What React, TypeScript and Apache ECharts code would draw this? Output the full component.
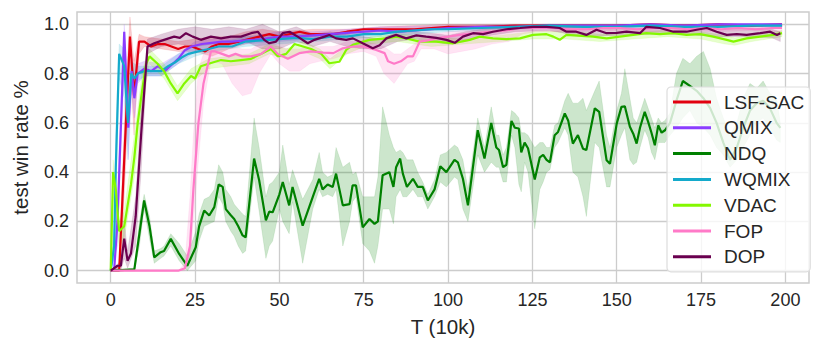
import React, { useEffect, useRef } from "react";
import * as echarts from "echarts";

// ---------- data ----------
const xTicks = [0, 25, 50, 75, 100, 125, 150, 175, 200];
const yTicks = [0, 0.2, 0.4, 0.6, 0.8, 1.0];
const seriesNames = ["LSF-SAC", "QMIX", "NDQ", "WQMIX", "VDAC", "FOP", "DOP"];
const seriesColors = ["#e2000f", "#8b3dff", "#008000", "#14aacb", "#84f800", "#ff7ac8", "#6a004f"];

// LSF-SAC
const lsfX = [0, 1, 2, 2.5, 3.3, 4.5, 5.7, 6.9, 8.4, 10, 12, 14, 16, 18, 20, 22, 24, 26, 28, 30, 32, 35, 38, 41, 44, 47, 50, 53, 56, 59, 62, 66, 70, 75, 80, 85, 90, 95, 100, 110, 120, 130, 140, 150, 160, 170, 180, 190, 199];
const lsfY = [0, 0, 0, 0, 0.24, 0.6, 0.95, 0.71, 0.93, 0.93, 0.91, 0.92, 0.92, 0.91, 0.9, 0.91, 0.91, 0.9, 0.89, 0.91, 0.92, 0.92, 0.93, 0.94, 0.95, 0.96, 0.95, 0.96, 0.97, 0.96, 0.96, 0.96, 0.97, 0.98, 0.98, 0.98, 0.98, 0.985, 0.99, 0.99, 0.995, 0.995, 0.995, 0.995, 1.0, 0.995, 1.0, 0.995, 1.0];
const lsfBandX = [0, 2.5, 3.3, 4.5, 5.7, 6.9, 8.4, 10, 15, 20, 25, 30, 35, 40, 45, 50, 60, 70, 80, 100, 120, 150, 180, 199];
const lsfLo = [0, 0, 0.1, 0.45, 0.85, 0.55, 0.88, 0.91, 0.9, 0.89, 0.89, 0.87, 0.9, 0.92, 0.94, 0.94, 0.95, 0.96, 0.97, 0.98, 0.985, 0.99, 0.99, 0.99];
const lsfHi = [0, 0.02, 0.35, 0.75, 1.03, 0.85, 0.96, 0.95, 0.94, 0.93, 0.94, 0.95, 0.95, 0.97, 0.98, 0.97, 0.98, 0.98, 0.99, 1.0, 1.0, 1.0, 1.0, 1.0];

// QMIX
const qmixX = [0, 1, 2, 2.5, 4, 5.2, 6.2, 7, 8, 10, 12, 14, 16, 18, 20, 22, 24, 27, 30, 33, 36, 40, 45, 50, 55, 60, 65, 70, 75, 80, 85, 90, 95, 100, 110, 120, 130, 140, 150, 160, 170, 180, 190, 199];
const qmixY = [0, 0, 0.2, 0.39, 0.97, 0.58, 0.81, 0.7, 0.8, 0.82, 0.81, 0.83, 0.81, 0.835, 0.86, 0.895, 0.91, 0.92, 0.925, 0.93, 0.93, 0.935, 0.94, 0.95, 0.95, 0.955, 0.96, 0.965, 0.97, 0.975, 0.97, 0.975, 0.98, 0.985, 0.99, 0.99, 0.995, 0.995, 0.995, 1.0, 0.995, 1.0, 1.0, 1.0];
const qmixBandX = [0, 2, 2.5, 4, 5.2, 6.2, 7, 8, 10, 15, 20, 25, 30, 40, 50, 60, 80, 100, 130, 160, 199];
const qmixLo = [0, 0.1, 0.3, 0.85, 0.45, 0.72, 0.62, 0.76, 0.79, 0.79, 0.84, 0.89, 0.91, 0.92, 0.93, 0.94, 0.96, 0.98, 0.985, 0.99, 0.99];
const qmixHi = [0, 0.3, 0.5, 1.0, 0.7, 0.88, 0.78, 0.84, 0.85, 0.84, 0.88, 0.93, 0.94, 0.95, 0.97, 0.97, 0.99, 0.995, 1.0, 1.0, 1.0];

// NDQ
const ndqX = [0, 7, 8.5, 9.9, 11.5, 12.9, 14.8, 15.8, 17.8, 20.3, 22.7, 25.2, 26.2, 27.7, 29.2, 30.7, 32, 33.2, 34.1, 35.6, 36.6, 37.8, 39.1, 40, 42.5, 44, 46, 47, 48, 50, 51, 52.9, 53.9, 56.9, 59.9, 61.8, 62.8, 64.3, 65.8, 66.8, 68.8, 70.8, 71.7, 72.7, 74.7, 76.7, 78.2, 79.2, 80.6, 82.6, 83.8, 84.6, 85.8, 86.6, 87.8, 89.6, 91, 92.5, 94, 96, 97.7, 99.5, 101.9, 102.9, 104.4, 105.9, 108.8, 110.8, 112.8, 114.3, 115.1, 116.3, 117.3, 118.8, 119.8, 121, 121.7, 122.7, 123.7, 125.7, 127.2, 128.2, 129.2, 130.2, 131.6, 132.6, 134.6, 135.6, 137, 138.5, 140, 141, 143.5, 144.8, 147, 148, 150, 151.4, 152.4, 153.9, 154.9, 155.9, 156.9, 158.3, 159.3, 160.3, 161.3, 162.3, 163.3, 164.3, 165.8, 167.7, 169.6, 171.7, 173.7, 175.7, 177.7, 179.6, 181.6, 183.6, 185.6, 187.5, 189.5, 191.5, 193.4, 195.4, 197.4, 198.5];
const ndqY = [0, 0.005, 0.15, 0.285, 0.18, 0.054, 0.075, 0.08, 0.129, 0.068, 0.02, 0.095, 0.18, 0.244, 0.224, 0.258, 0.35, 0.34, 0.25, 0.225, 0.21, 0.18, 0.143, 0.135, 0.455, 0.367, 0.204, 0.24, 0.237, 0.31, 0.36, 0.265, 0.34, 0.183, 0.3, 0.373, 0.33, 0.35, 0.34, 0.394, 0.265, 0.27, 0.346, 0.346, 0.176, 0.21, 0.19, 0.2, 0.387, 0.4, 0.34, 0.42, 0.455, 0.394, 0.34, 0.373, 0.34, 0.34, 0.285, 0.33, 0.424, 0.4, 0.45, 0.44, 0.373, 0.265, 0.57, 0.455, 0.6, 0.5, 0.49, 0.42, 0.43, 0.608, 0.58, 0.577, 0.48, 0.52, 0.497, 0.37, 0.46, 0.47, 0.45, 0.44, 0.55, 0.563, 0.638, 0.61, 0.516, 0.55, 0.495, 0.49, 0.659, 0.645, 0.448, 0.434, 0.597, 0.665, 0.667, 0.584, 0.556, 0.516, 0.58, 0.645, 0.605, 0.56, 0.509, 0.59, 0.56, 0.57, 0.6, 0.69, 0.77, 0.75, 0.73, 0.7, 0.66, 0.6, 0.52, 0.45, 0.5, 0.58, 0.65, 0.68, 0.69, 0.66, 0.6, 0.58];
const ndqLo = [0, 0, 0.1, 0.25, 0.13, 0.03, 0.05, 0.06, 0.1, 0.04, 0, 0.04, 0.12, 0.18, 0.19, 0.2, 0.3, 0.27, 0.2, 0.16, 0.14, 0.1, 0.07, 0.08, 0.38, 0.24, 0.05, 0.1, 0.12, 0.25, 0.2, 0.15, 0.28, 0.03, 0.25, 0.33, 0.3, 0.31, 0.3, 0.33, 0.1, 0.2, 0.28, 0.3, 0.11, 0.08, 0.03, 0.1, 0.25, 0.25, 0.19, 0.3, 0.33, 0.3, 0.3, 0.33, 0.3, 0.3, 0.25, 0.3, 0.36, 0.34, 0.38, 0.37, 0.25, 0.2, 0.47, 0.4, 0.44, 0.42, 0.42, 0.36, 0.36, 0.55, 0.5, 0.35, 0.32, 0.44, 0.4, 0.17, 0.33, 0.36, 0.4, 0.41, 0.5, 0.52, 0.58, 0.55, 0.4, 0.38, 0.3, 0.22, 0.52, 0.5, 0.34, 0.34, 0.5, 0.55, 0.58, 0.45, 0.43, 0.44, 0.5, 0.57, 0.54, 0.48, 0.45, 0.52, 0.52, 0.52, 0.55, 0.58, 0.62, 0.65, 0.6, 0.58, 0.55, 0.5, 0.47, 0.42, 0.45, 0.5, 0.55, 0.6, 0.62, 0.58, 0.53, 0.52];
const ndqHi = [0, 0.01, 0.2, 0.31, 0.22, 0.08, 0.09, 0.1, 0.15, 0.11, 0.06, 0.16, 0.23, 0.29, 0.3, 0.33, 0.43, 0.4, 0.33, 0.3, 0.27, 0.25, 0.23, 0.22, 0.62, 0.5, 0.3, 0.35, 0.36, 0.4, 0.51, 0.35, 0.41, 0.29, 0.37, 0.48, 0.4, 0.38, 0.39, 0.5, 0.42, 0.44, 0.39, 0.4, 0.3, 0.3, 0.3, 0.38, 0.665, 0.55, 0.5, 0.48, 0.49, 0.48, 0.45, 0.45, 0.4, 0.36, 0.31, 0.37, 0.47, 0.48, 0.51, 0.5, 0.45, 0.33, 0.62, 0.5, 0.665, 0.55, 0.55, 0.47, 0.5, 0.65, 0.64, 0.62, 0.56, 0.56, 0.55, 0.5, 0.52, 0.52, 0.5, 0.5, 0.59, 0.6, 0.69, 0.72, 0.68, 0.68, 0.7, 0.65, 0.73, 0.77, 0.55, 0.5, 0.65, 0.72, 0.82, 0.7, 0.62, 0.6, 0.64, 0.7, 0.66, 0.62, 0.58, 0.62, 0.6, 0.61, 0.64, 0.8, 0.862, 0.84, 0.87, 0.89, 0.82, 0.7, 0.62, 0.55, 0.6, 0.7, 0.76, 0.74, 0.77, 0.72, 0.7, 0.6];

// WQMIX
const wqX = [0, 1, 1.5, 2.5, 4, 5.1, 6.1, 7, 8, 10, 12, 15, 17, 19, 21, 23, 26, 29, 32, 36, 40, 45, 50, 55, 60, 65, 70, 75, 80, 85, 90, 95, 100, 110, 120, 130, 140, 150, 160, 170, 180, 190, 199];
const wqY = [0, 0.1, 0.42, 0.88, 0.83, 0.6, 0.8, 0.78, 0.8, 0.81, 0.81, 0.81, 0.83, 0.845, 0.865, 0.88, 0.89, 0.9, 0.91, 0.91, 0.93, 0.935, 0.94, 0.945, 0.94, 0.95, 0.95, 0.96, 0.96, 0.97, 0.975, 0.98, 0.98, 0.985, 0.99, 0.995, 0.99, 0.99, 0.995, 0.99, 0.99, 0.995, 0.995];
const wqBandX = [0, 1, 1.5, 2.5, 4, 5.1, 6.1, 8, 10, 15, 20, 25, 30, 40, 50, 60, 80, 100, 130, 160, 199];
const wqLo = [0, 0.05, 0.3, 0.78, 0.7, 0.45, 0.74, 0.77, 0.79, 0.79, 0.84, 0.87, 0.89, 0.91, 0.92, 0.93, 0.95, 0.97, 0.985, 0.985, 0.99];
const wqHi = [0, 0.2, 0.55, 0.92, 0.9, 0.72, 0.85, 0.83, 0.83, 0.83, 0.88, 0.91, 0.92, 0.95, 0.96, 0.96, 0.975, 0.99, 1.0, 1.0, 1.0];

// VDAC
const vdacX = [0, 0.7, 1.5, 2.5, 4, 6, 7, 8, 9.5, 10.5, 11.5, 13.9, 15.8, 17.8, 19.8, 21.8, 23.8, 25, 26.7, 29, 32.7, 35.6, 38.6, 41.6, 44.6, 47.5, 49.5, 52, 54.5, 57, 59.4, 62.4, 64.8, 67.8, 69.8, 71.8, 76.7, 81.7, 84.6, 87.6, 91.6, 96.5, 101.5, 106.4, 109.4, 113.3, 117.3, 121.3, 125.2, 129.2, 131.2, 133.1, 135.1, 143, 147, 150.9, 154.9, 158.8, 162.8, 166.8, 170.7, 174.7, 178.6, 182.6, 184.6, 188.5, 192.5, 196.5, 199];
const vdacY = [0, 0.4, 0.33, 0.16, 0.18, 0.35, 0.46, 0.6, 0.75, 0.84, 0.87, 0.84, 0.81, 0.76, 0.72, 0.76, 0.79, 0.78, 0.83, 0.84, 0.855, 0.85, 0.855, 0.86, 0.88, 0.9, 0.87, 0.88, 0.92, 0.91, 0.9, 0.88, 0.842, 0.848, 0.896, 0.917, 0.937, 0.943, 0.95, 0.943, 0.93, 0.93, 0.923, 0.937, 0.95, 0.943, 0.94, 0.943, 0.957, 0.96, 0.95, 0.937, 0.957, 0.95, 0.943, 0.95, 0.957, 0.964, 0.96, 0.964, 0.957, 0.96, 0.95, 0.937, 0.93, 0.943, 0.95, 0.957, 0.964];
const vdacBandX = [0, 0.7, 2.5, 4, 7, 9.5, 11.5, 15.8, 19.8, 23.8, 29, 35, 41, 47, 52, 57, 62, 65, 70, 77, 85, 95, 105, 115, 125, 135, 145, 155, 165, 175, 182, 185, 190, 199];
const vdacLo = [0, 0.3, 0.1, 0.13, 0.38, 0.68, 0.84, 0.78, 0.69, 0.76, 0.82, 0.83, 0.84, 0.88, 0.86, 0.89, 0.86, 0.82, 0.88, 0.92, 0.93, 0.91, 0.92, 0.93, 0.94, 0.94, 0.93, 0.94, 0.95, 0.94, 0.92, 0.915, 0.93, 0.95];
const vdacHi = [0, 0.45, 0.2, 0.24, 0.55, 0.82, 0.9, 0.84, 0.75, 0.82, 0.86, 0.87, 0.88, 0.92, 0.9, 0.93, 0.9, 0.86, 0.91, 0.95, 0.96, 0.95, 0.94, 0.955, 0.97, 0.975, 0.96, 0.97, 0.975, 0.97, 0.955, 0.945, 0.955, 0.975];

// FOP
const fopX = [0, 5, 10, 15, 20, 22, 23.5, 24.5, 26, 27.5, 29.7, 31, 33, 35, 37, 39, 41.6, 44.6, 47.5, 49.5, 52.5, 55.9, 59.4, 63, 66, 68.8, 72, 75, 78.7, 81.2, 82.2, 84, 86, 88, 89.6, 91.6, 94, 96.5, 100, 103.4, 108.4, 113, 117, 121.3, 126, 131, 136, 141, 146, 151, 156, 161, 166, 171, 176, 181, 186, 191, 196, 199];
const fopY = [0, 0, 0, 0, 0, 0.01, 0.1, 0.33, 0.6, 0.76, 0.89, 0.89, 0.88, 0.87, 0.88, 0.87, 0.87, 0.88, 0.91, 0.88, 0.86, 0.883, 0.89, 0.885, 0.883, 0.903, 0.91, 0.91, 0.896, 0.883, 0.85, 0.84, 0.85, 0.87, 0.87, 0.93, 0.935, 0.943, 0.95, 0.957, 0.964, 0.97, 0.975, 0.985, 0.985, 0.985, 0.98, 0.98, 0.985, 0.985, 0.98, 0.985, 0.985, 0.98, 0.985, 0.98, 0.985, 0.98, 0.985, 0.985];
const fopBandX = [0, 20, 22, 23.5, 24.5, 26, 27.5, 29.7, 33, 36, 39, 41.6, 44, 47.5, 50, 53, 56, 59, 62, 66, 70, 75, 78.7, 81, 84, 86, 88, 90, 92, 96, 100, 104, 108, 113, 118, 122, 126, 131, 140, 150, 160, 170, 180, 190, 199];
const fopLo = [0, 0, 0, 0.05, 0.2, 0.45, 0.68, 0.85, 0.84, 0.76, 0.71, 0.72, 0.8, 0.88, 0.84, 0.81, 0.81, 0.84, 0.85, 0.86, 0.88, 0.89, 0.87, 0.8, 0.76, 0.8, 0.84, 0.85, 0.9, 0.9, 0.88, 0.89, 0.9, 0.92, 0.93, 0.96, 0.97, 0.97, 0.97, 0.975, 0.97, 0.975, 0.97, 0.975, 0.97];
const fopHi = [0, 0, 0.03, 0.3, 0.55, 0.82, 0.88, 0.92, 0.91, 0.91, 0.9, 0.9, 0.92, 0.93, 0.91, 0.9, 0.9, 0.91, 0.91, 0.91, 0.93, 0.93, 0.92, 0.91, 0.88, 0.88, 0.9, 0.92, 0.95, 0.96, 0.97, 0.975, 0.98, 0.985, 0.99, 0.995, 0.995, 0.995, 0.99, 0.995, 0.99, 0.995, 0.99, 0.995, 0.995];

// DOP
const dopX = [0, 2, 3, 4, 5, 6, 7.4, 9, 10.9, 12.9, 15.8, 18.8, 20.5, 22.3, 24.3, 26.7, 29.7, 32.7, 35.6, 38.6, 41.6, 43.6, 45.5, 47, 49, 51, 53, 55.4, 58.4, 60.4, 63.4, 64.8, 66.8, 69.8, 71.8, 74.7, 77.7, 79.7, 81.7, 84.6, 87.6, 90.6, 93.5, 96.5, 99.5, 102, 104.4, 107.4, 110.4, 113.3, 117.3, 121.3, 125.2, 129.2, 133.1, 135.1, 138, 141, 144, 147, 150, 152.9, 156.9, 158.8, 162.8, 166.8, 170.7, 173.7, 176.7, 179.6, 182.6, 185.6, 188.5, 192.5, 195.5, 197.5, 198.5];
const dopY = [0, 0.02, 0.02, 0.13, 0.04, 0.07, 0.22, 0.55, 0.91, 0.923, 0.937, 0.95, 0.945, 0.964, 0.95, 0.937, 0.95, 0.943, 0.95, 0.95, 0.964, 0.97, 0.937, 0.923, 0.93, 0.964, 0.97, 0.95, 0.923, 0.937, 0.95, 0.957, 0.943, 0.937, 0.943, 0.923, 0.903, 0.915, 0.943, 0.957, 0.943, 0.955, 0.95, 0.945, 0.937, 0.925, 0.95, 0.964, 0.96, 0.97, 0.98, 0.985, 0.99, 0.99, 0.985, 0.97, 0.97, 0.957, 0.978, 0.964, 0.965, 0.97, 0.964, 0.99, 0.985, 0.97, 0.97, 0.978, 0.985, 0.97, 0.957, 0.96, 0.957, 0.964, 0.97, 0.957, 0.964];
const dopBandX = [0, 3, 4, 5, 7.4, 9, 10.9, 15, 20, 25, 30, 35, 40, 45, 50, 55, 60, 65, 70, 75, 80, 85, 90, 95, 100, 105, 110, 120, 130, 140, 150, 160, 170, 180, 190, 196, 198.5];
const dopLo = [0, 0, 0.05, 0.01, 0.1, 0.4, 0.88, 0.91, 0.92, 0.91, 0.92, 0.92, 0.93, 0.9, 0.9, 0.93, 0.91, 0.93, 0.91, 0.9, 0.9, 0.93, 0.94, 0.93, 0.92, 0.93, 0.95, 0.97, 0.975, 0.95, 0.955, 0.96, 0.96, 0.95, 0.95, 0.945, 0.93];
const dopHi = [0, 0.04, 0.2, 0.08, 0.3, 0.65, 0.94, 0.96, 0.98, 0.99, 0.98, 0.99, 0.98, 1.0, 0.97, 0.99, 0.96, 0.97, 0.96, 0.95, 0.94, 0.97, 0.97, 0.965, 0.955, 0.97, 0.98, 0.99, 1.0, 0.985, 0.98, 0.985, 0.985, 0.98, 0.985, 0.98, 0.97];

const lineXs = [lsfX, qmixX, ndqX, wqX, vdacX, fopX, dopX];
const lineYs = [lsfY, qmixY, ndqY, wqY, vdacY, fopY, dopY];
const bandXs = [lsfBandX, qmixBandX, ndqX, wqBandX, vdacBandX, fopBandX, dopBandX];
const bandLos = [lsfLo, qmixLo, ndqLo, wqLo, vdacLo, fopLo, dopLo];
const bandHis = [lsfHi, qmixHi, ndqHi, wqHi, vdacHi, fopHi, dopHi];

const FONT = "'Liberation Sans', Arial, sans-serif";
const TXT = "#262626";
const GRID = "#cccccc";

function hexToRgba(hex: string, a: number) {
  const n = parseInt(hex.slice(1), 16);
  return `rgba(${(n >> 16) & 255},${(n >> 8) & 255},${n & 255},${a})`;
}

export default function App() {
  const ref = useRef<HTMLDivElement>(null);
  useEffect(() => {
    if (!ref.current) return;
    const chart = echarts.init(ref.current, undefined, { renderer: "svg" });
    const series: any[] = [];
    seriesNames.forEach((name, i) => {
      const bx = bandXs[i], lo = bandLos[i], hi = bandHis[i];
      series.push({
        type: "custom",
        name: name + " band",
        coordinateSystem: "cartesian2d",
        data: [[bx[0], lo[0]]],
        silent: true,
        z: 2,
        renderItem: (params: any, api: any) => {
          const pts: number[][] = [];
          for (let k = 0; k < bx.length; k++) pts.push(api.coord([bx[k], hi[k]]));
          for (let k = bx.length - 1; k >= 0; k--) pts.push(api.coord([bx[k], lo[k]]));
          return {
            type: "polygon",
            shape: { points: pts },
            style: { fill: hexToRgba(seriesColors[i], 0.2), stroke: hexToRgba(seriesColors[i], 0.12), lineWidth: 0.8 },
          };
        },
      });
      series.push({
        type: "line",
        name,
        data: lineXs[i].map((x, k) => [x, lineYs[i][k]]),
        showSymbol: false,
        symbol: "none",
        z: 3,
        lineStyle: { color: seriesColors[i], width: 2.2 },
        itemStyle: { color: seriesColors[i] },
      });
    });

    chart.setOption({
      animation: false,
      backgroundColor: "#ffffff",
      textStyle: { fontFamily: FONT },
      grid: {
        left: 77,
        top: 12,
        width: 732,
        height: 271,
        show: true,
        borderColor: GRID,
        borderWidth: 1.5,
        backgroundColor: "transparent",
      },
      xAxis: {
        type: "value",
        min: -10,
        max: 207,
        name: "T (10k)",
        nameLocation: "middle",
        nameGap: 33,
        nameTextStyle: { fontSize: 20.5, color: TXT, fontFamily: FONT },
        axisLine: { show: false },
        axisTick: { show: false, customValues: xTicks },
        axisLabel: { customValues: xTicks, fontSize: 18, color: TXT, margin: 8, fontFamily: FONT },
        splitLine: { show: true, lineStyle: { color: GRID, width: 1.3 } },
      },
      yAxis: {
        type: "value",
        min: -0.05,
        max: 1.05,
        name: "test win rate %",
        nameLocation: "middle",
        nameGap: 46,
        nameTextStyle: { fontSize: 20.5, color: TXT, fontFamily: FONT },
        axisLine: { show: false },
        axisTick: { show: false, customValues: yTicks },
        axisLabel: {
          customValues: yTicks,
          fontSize: 18,
          color: TXT,
          margin: 8,
          fontFamily: FONT,
          formatter: (v: number) => v.toFixed(1),
        },
        splitLine: { show: true, lineStyle: { color: GRID, width: 1.3 } },
      },
      legend: {
        data: seriesNames,
        orient: "vertical",
        left: 667,
        top: 87,
        icon: "rect",
        itemWidth: 38,
        itemHeight: 3,
        itemGap: 5.8,
        padding: [5, 6, 5, 6],
        backgroundColor: "rgba(255,255,255,0.8)",
        borderColor: "#dddddd",
        borderWidth: 1.2,
        borderRadius: 4,
        textStyle: { fontSize: 19, color: TXT, fontFamily: FONT, lineHeight: 20, padding: [0, 0, 0, 8] },
        z: 10,
      },
      series,
    });
    return () => chart.dispose();
  }, []);
  return (
    <div
      ref={ref}
      style={{ position: "fixed", left: 0, top: 0, width: 830, height: 352, background: "#fff" }}
    />
  );
}
